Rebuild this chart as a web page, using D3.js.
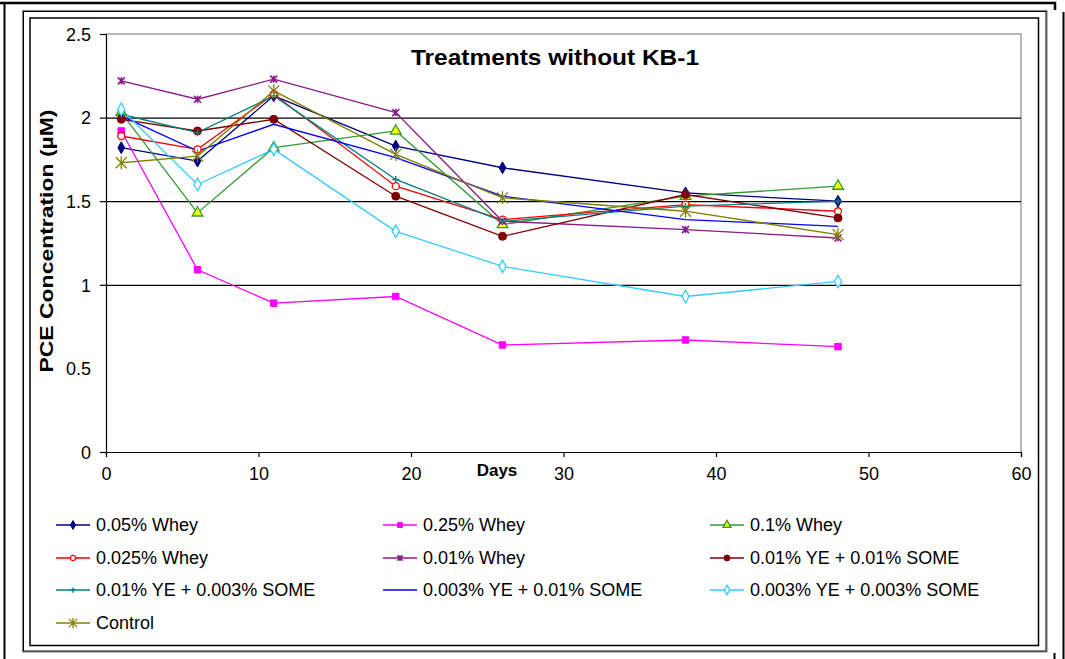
<!DOCTYPE html>
<html><head><meta charset="utf-8">
<script src="https://cdn.jsdelivr.net/npm/d3@7"></script>
<style>
body{margin:0;background:#fff;}
svg{display:block;font-family:"Liberation Sans",Arial,sans-serif;}
</style></head>
<body><svg id="c" width="1065" height="659"></svg>
<script>
const days = [1, 6, 11, 19, 26, 38, 48];
const seriesNames = ["0.05% Whey","0.25% Whey","0.1% Whey","0.025% Whey","0.01% Whey","0.01% YE + 0.01% SOME","0.01% YE + 0.003% SOME","0.003% YE + 0.01% SOME","0.003% YE + 0.003% SOME","Control"];
const whey005 = [1.82, 1.74, 2.13, 1.83, 1.70, 1.55, 1.50];
const whey025 = [1.92, 1.09, 0.89, 0.93, 0.64, 0.67, 0.63];
const whey01 = [2.03, 1.43, 1.82, 1.92, 1.36, 1.53, 1.59];
const whey0025 = [1.89, 1.81, 2.14, 1.59, 1.39, 1.48, 1.44];
const whey001 = [2.22, 2.11, 2.23, 2.03, 1.38, 1.33, 1.28];
const ye001some001 = [1.99, 1.92, 1.99, 1.53, 1.29, 1.54, 1.40];
const ye001some0003 = [2.02, 1.91, 2.13, 1.63, 1.38, 1.47, 1.50];
const ye0003some001 = [2.01, 1.80, 1.96, 1.76, 1.53, 1.39, 1.35];
const ye0003some0003 = [2.05, 1.60, 1.81, 1.32, 1.11, 0.93, 1.02];
const control = [1.73, 1.77, 2.16, 1.78, 1.52, 1.44, 1.30];
const xTicks = [0, 10, 20, 30, 40, 50, 60];
const yTicks = [0, 0.5, 1, 1.5, 2, 2.5];
const gridValues = [1, 1.5, 2];

const values = [whey005, whey025, whey01, whey0025, whey001, ye001some001, ye001some0003, ye0003some001, ye0003some0003, control];
const colors = ["#000080","#ff00ff","#339933","#ff0000","#8b1a8b","#800000","#008080","#0000ff","#33ccff","#808000"];
const markers = ["diamond","square","triangle","circle","star","dot","plus","none","odiamond","bigstar"];

const svg = d3.select("#c");
const X0 = 106, X1 = 1021, Y0 = 452, Y1 = 34;
const x = d3.scaleLinear().domain([0, 60]).range([X0, X1]);
const y = d3.scaleLinear().domain([0, 2.5]).range([Y0, Y1]);

// frames
svg.append("path").attr("d","M0,3 H1055 V10").attr("fill","none").attr("stroke","#000").attr("stroke-width",2.5);
svg.append("line").attr("x1",4.5).attr("x2",4.5).attr("y1",2).attr("y2",659).attr("stroke","#000").attr("stroke-width",2);
svg.append("line").attr("x1",1063.5).attr("x2",1063.5).attr("y1",12).attr("y2",659).attr("stroke","#000").attr("stroke-width",2);
svg.append("line").attr("x1",1054.5).attr("x2",1054.5).attr("y1",653).attr("y2",659).attr("stroke","#000").attr("stroke-width",2);
svg.append("rect").attr("x",22.5).attr("y",10.5).attr("width",1024.5).attr("height",641.5).attr("fill","none").attr("stroke","#888").attr("stroke-width",1.2);
svg.append("rect").attr("x",23.5).attr("y",11.5).attr("width",1022.5).attr("height",639.5).attr("fill","none").attr("stroke","#000").attr("stroke-width",1);
svg.append("rect").attr("x",30).attr("y",18).attr("width",1008.5).attr("height",627.5).attr("fill","none").attr("stroke","#000").attr("stroke-width",1.5);

// plot area border (top/right gray)
svg.append("path").attr("d",`M${X0},${Y1} H${X1} V${Y0}`).attr("fill","none").attr("stroke","#a0a0a0").attr("stroke-width",1.5);

// gridlines
svg.append("g").selectAll("line").data(gridValues).join("line")
  .attr("x1",X0).attr("x2",X1).attr("y1",d=>y(d)+0.5).attr("y2",d=>y(d)+0.5)
  .attr("stroke","#000").attr("stroke-width",1.2);

// axes
const yAxis = d3.axisLeft(y).tickValues(yTicks.filter(v=>v!==0.5)).tickSize(6).tickFormat(d=>d);
const gy = svg.append("g").attr("transform",`translate(${X0},0)`).call(yAxis);
gy.select(".domain").attr("stroke","#000").attr("stroke-width",1.2);
gy.selectAll(".tick line").attr("stroke","#000").attr("stroke-width",1.2);
gy.selectAll(".tick text").attr("font-size",18).attr("font-family","Liberation Sans, Arial").attr("fill","#000").attr("x",-15).attr("dy","0.35em");
// 0.5 label without tick mark
svg.append("text").attr("x",X0-15).attr("y",y(0.5)).attr("dy","0.35em").attr("text-anchor","end").attr("font-size",18).text("0.5");

const xAxis = d3.axisBottom(x).tickValues(xTicks).tickSize(5).tickFormat(d=>d);
const gx = svg.append("g").attr("transform",`translate(0,${Y0})`).call(xAxis);
gx.select(".domain").attr("stroke","#000").attr("stroke-width",1.2);
gx.selectAll(".tick line").attr("stroke","#000").attr("stroke-width",1.2);
gx.selectAll(".tick text").attr("font-size",18).attr("font-family","Liberation Sans, Arial").attr("fill","#000").attr("y",22).attr("dy","0.35em");

// titles
svg.append("text").attr("x",555).attr("y",65).attr("text-anchor","middle").attr("font-weight","bold").attr("font-size",22)
  .attr("textLength",288).attr("lengthAdjust","spacingAndGlyphs").text("Treatments without KB-1");
svg.append("text").attr("transform","translate(53,241) rotate(-90)").attr("text-anchor","middle").attr("font-weight","bold").attr("font-size",19)
  .attr("textLength",263).attr("lengthAdjust","spacingAndGlyphs").text("PCE Concentration (µM)");
svg.append("text").attr("x",497).attr("y",476).attr("text-anchor","middle").attr("font-weight","bold").attr("font-size",17).text("Days");

// marker drawing
function drawMarker(g, type, color, s) {
  const k = s || 1;
  const sym = (t, size) => d3.symbol().type(t).size(size*k*k)();
  if (type === "diamond") g.append("path").attr("d", d3.symbol().type(d3.symbolDiamond).size(40*k*k)()).attr("fill", color).attr("stroke", color);
  else if (type === "square") g.append("path").attr("d", sym(d3.symbolSquare, 42)).attr("fill", color).attr("stroke", color);
  else if (type === "triangle") g.append("path").attr("d", sym(d3.symbolTriangle, 50)).attr("fill", "#ffff00").attr("stroke", color).attr("stroke-width",1.3);
  else if (type === "circle") g.append("circle").attr("r", 3.5*k).attr("fill", "#fff").attr("stroke", color).attr("stroke-width",1.3);
  else if (type === "dot") g.append("circle").attr("r", 4*k).attr("fill", color).attr("stroke", color);
  else if (type === "odiamond") g.append("path").attr("d", d3.symbol().type(d3.symbolDiamond).size(45*k*k)()).attr("fill", "#fff").attr("stroke", color).attr("stroke-width",1.3);
  else if (type === "plus") { const r=3.5*k; g.append("path").attr("d",`M${-r},0H${r}M0,${-r}V${r}`).attr("stroke",color).attr("stroke-width",1.4).attr("fill","none"); }
  else if (type === "star") { const r=3.5*k; g.append("path").attr("d",`M${-r},${-r}L${r},${r}M${-r},${r}L${r},${-r}M0,${-r}V${r}`).attr("stroke",color).attr("stroke-width",1.6).attr("fill","none"); }
  else if (type === "bigstar") { const r=5.5*k; g.append("path").attr("d",`M${-r},${-r}L${r},${r}M${-r},${r}L${r},${-r}M0,${-r-1}V${r+1}`).attr("stroke",color).attr("stroke-width",1.3).attr("fill","none"); }
}

const line = d3.line().x((d,i)=>x(days[i])).y(d=>y(d));
const plot = svg.append("g");
values.forEach((vals, si) => {
  plot.append("path").attr("d", line(vals)).attr("fill","none").attr("stroke", colors[si]).attr("stroke-width",1.3);
});
values.forEach((vals, si) => {
  vals.forEach((v, i) => {
    const g = plot.append("g").attr("transform", `translate(${x(days[i])},${y(v)})`);
    drawMarker(g, markers[si], colors[si], 1);
  });
});

// legend
const colX = [56, 383, 710];
const rowY = [525, 558, 590, 623];
seriesNames.forEach((name, i) => {
  const c = i % 3, r = Math.floor(i / 3);
  const gx0 = colX[c], gy0 = rowY[r];
  const g = svg.append("g").attr("transform", `translate(${gx0},${gy0})`);
  g.append("line").attr("x1",0).attr("x2",34).attr("y1",0).attr("y2",0).attr("stroke",colors[i]).attr("stroke-width",1.3);
  const m = g.append("g").attr("transform","translate(17,0)");
  drawMarker(m, markers[i], colors[i], 0.75);
  g.append("text").attr("x",40).attr("y",0).attr("dy","0.35em").attr("font-size",18).attr("fill","#000").text(name);
});
</script></body></html>
